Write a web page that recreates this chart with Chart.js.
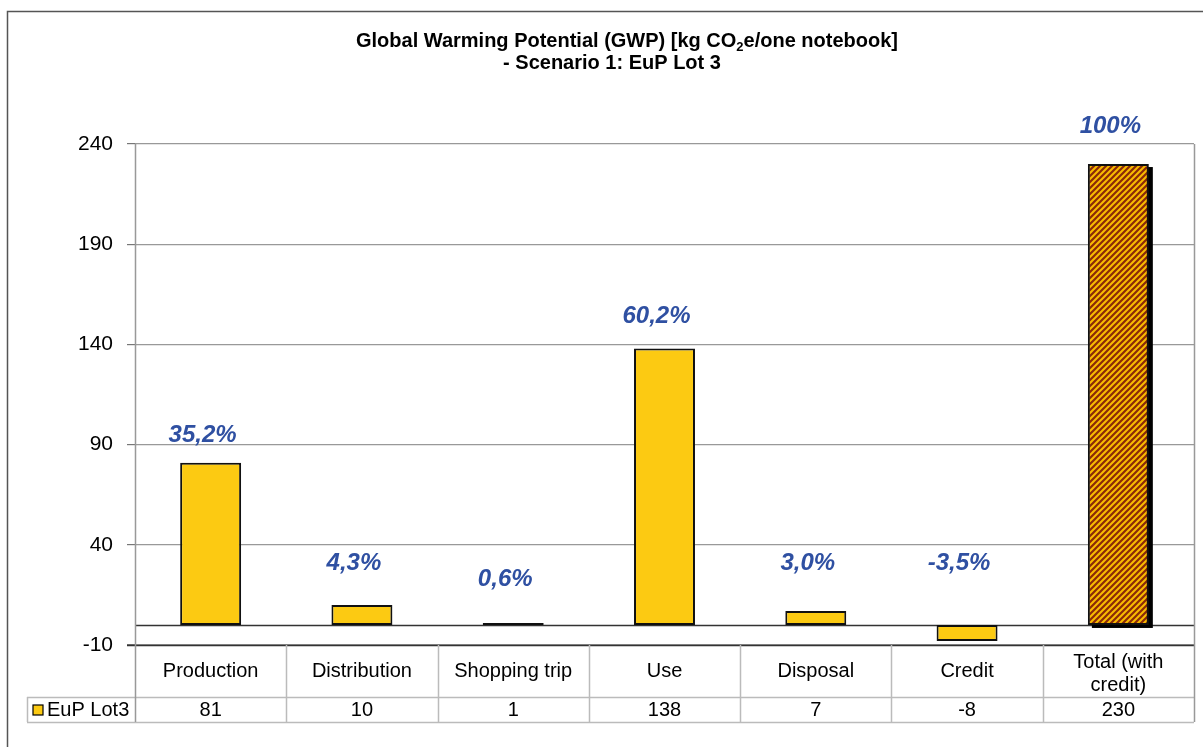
<!DOCTYPE html>
<html>
<head>
<meta charset="utf-8">
<script src="https://cdn.jsdelivr.net/npm/chart.js@4/dist/chart.umd.min.js"></script>
<style>
  html, body { margin: 0; padding: 0; background: #fff; overflow: hidden; }
  #wrap { width: 1203px; height: 747px; position: relative; }
</style>
</head>
<body>
<div id="wrap"><canvas id="gwp-chart" width="1203" height="747"></canvas></div>
<script>
const categories = ['Production', 'Distribution', 'Shopping trip', 'Use', 'Disposal', 'Credit', ['Total (with', 'credit)']];
const values = [81, 10, 1, 138, 7, -8, 230];
const tableValues = ['81', '10', '1', '138', '7', '-8', '230'];
const shareLabels = ['35,2%', '4,3%', '0,6%', '60,2%', '3,0%', '-3,5%', '100%'];
// where the share labels sit, in axis units
const shareLabelAt = [94.5, 30.5, 22.5, 154, 30.5, 30.5, 249];
const yTicks = [-10, 40, 90, 140, 190, 240];
const seriesName = 'EuP Lot3';

const FONT = '"Liberation Sans", Arial, sans-serif';
const YELLOW = '#FCCA12';

function hatch() {
    const c = document.createElement('canvas');
    c.width = 6; c.height = 6;
    const g = c.getContext('2d');
    g.fillStyle = '#F9BC00';
    g.fillRect(0, 0, 6, 6);
    g.strokeStyle = '#8A2A08';
    g.lineWidth = 2.2;
    g.beginPath();
    g.moveTo(-1, 7); g.lineTo(7, -1);
    g.moveTo(-4, 4); g.lineTo(4, -4);
    g.moveTo(2, 10); g.lineTo(10, 2);
    g.stroke();
    return g.createPattern(c, 'repeat');
}

const decor = {
    id: 'decor',
    beforeDraw(chart) {
        const ctx = chart.ctx;
        ctx.save();
        ctx.strokeStyle = '#555';
        ctx.lineWidth = 1.5;
        ctx.beginPath();
        ctx.moveTo(7.5, 760); ctx.lineTo(7.5, 11.5); ctx.lineTo(1210, 11.5);
        ctx.stroke();
        // title
        ctx.fillStyle = '#000';
        ctx.textBaseline = 'middle';
        const p1 = 'Global Warming Potential (GWP) [kg CO', p2 = 'e/one notebook]';
        ctx.font = 'bold 20px ' + FONT;
        const w1 = ctx.measureText(p1).width, w2 = ctx.measureText(p2).width;
        ctx.font = 'bold 13px ' + FONT;
        const ws = ctx.measureText('2').width;
        let x = 627 - (w1 + ws + w2) / 2;
        ctx.textAlign = 'left';
        ctx.font = 'bold 20px ' + FONT;
        ctx.fillText(p1, x, 41);
        ctx.font = 'bold 13px ' + FONT;
        ctx.fillText('2', x + w1, 47);
        ctx.font = 'bold 20px ' + FONT;
        ctx.fillText(p2, x + w1 + ws, 41);
        ctx.textAlign = 'center';
        ctx.fillText('- Scenario 1: EuP Lot 3', 612, 63);
        ctx.restore();
    },
    beforeDatasetsDraw(chart) {
        const ctx = chart.ctx;
        const y = chart.scales.y;
        const area = chart.chartArea;
        ctx.save();
        // zero line
        ctx.strokeStyle = '#333';
        ctx.lineWidth = 1.5;
        const y0 = Math.round(y.getPixelForValue(0)) + 0.5;
        ctx.beginPath();
        ctx.moveTo(area.left, y0); ctx.lineTo(area.right, y0);
        ctx.stroke();
        // shadow behind the total bar
        const bar = chart.getDatasetMeta(0).data[values.length - 1];
        ctx.fillStyle = '#000';
        ctx.fillRect(bar.x - bar.width / 2 + 4, bar.y + 3, bar.width, bar.base - bar.y);
        ctx.restore();
    },
    afterDatasetsDraw(chart) {
        const ctx = chart.ctx;
        const xs = chart.scales.x, ys = chart.scales.y;
        ctx.save();
        ctx.fillStyle = '#2F50A2';
        ctx.font = 'italic bold 24px ' + FONT;
        ctx.textAlign = 'center';
        ctx.textBaseline = 'middle';
        shareLabels.forEach((t, i) => {
            ctx.fillText(t, xs.getPixelForValue(i) - 8, ys.getPixelForValue(shareLabelAt[i]));
        });
        ctx.restore();
    },
    afterDraw(chart) {
        const ctx = chart.ctx;
        const xs = chart.scales.x;
        const area = chart.chartArea;
        const n = categories.length;
        const colW = (area.right - area.left) / n;
        const top = area.bottom, mid = area.bottom + 52, bot = area.bottom + 77;
        ctx.save();
        // bottom axis line
        ctx.strokeStyle = '#333';
        ctx.lineWidth = 1.5;
        ctx.beginPath();
        ctx.moveTo(area.left - 8, top + 0.5); ctx.lineTo(area.right, top + 0.5);
        ctx.stroke();
        // table grid
        ctx.strokeStyle = '#bbb';
        ctx.lineWidth = 1.5;
        ctx.beginPath();
        ctx.moveTo(27, mid + 0.5); ctx.lineTo(area.right, mid + 0.5);
        ctx.moveTo(27, bot + 0.5); ctx.lineTo(area.right, bot + 0.5);
        ctx.moveTo(27.5, mid); ctx.lineTo(27.5, bot);
        for (let i = 1; i < n; i++) {
            const x = Math.round(area.left + i * colW) + 0.5;
            ctx.moveTo(x, top); ctx.lineTo(x, bot);
        }
        ctx.stroke();
        ctx.strokeStyle = '#999';
        ctx.beginPath();
        ctx.moveTo(area.left + 0.5, area.top); ctx.lineTo(area.left + 0.5, bot);
        ctx.moveTo(area.right + 0.5, area.top); ctx.lineTo(area.right + 0.5, bot);
        ctx.stroke();
        // texts
        ctx.fillStyle = '#000';
        ctx.font = '20px ' + FONT;
        ctx.textAlign = 'center';
        ctx.textBaseline = 'middle';
        categories.forEach((c, i) => {
            const cx = xs.getPixelForValue(i);
            if (Array.isArray(c)) {
                ctx.fillText(c[0], cx, top + 17);
                ctx.fillText(c[1], cx, top + 40);
            } else {
                ctx.fillText(c, cx, top + 26);
            }
            ctx.fillText(tableValues[i], cx, mid + 13);
        });
        // legend key
        ctx.fillStyle = YELLOW;
        ctx.fillRect(33, mid + 8, 10, 10);
        ctx.strokeStyle = '#000';
        ctx.lineWidth = 1.2;
        ctx.strokeRect(33, mid + 8, 10, 10);
        ctx.fillStyle = '#000';
        ctx.textAlign = 'left';
        ctx.fillText(seriesName, 47, mid + 13);
        ctx.restore();
    }
};

const totalPattern = hatch();

new Chart(document.getElementById('gwp-chart').getContext('2d'), {
    type: 'bar',
    data: {
        labels: categories,
        datasets: [{
            label: seriesName,
            data: values,
            backgroundColor: values.map((v, i) => i === values.length - 1 ? totalPattern : YELLOW),
            borderColor: '#111',
            borderWidth: 2,
            borderSkipped: false,
            barPercentage: 0.5,
            categoryPercentage: 0.806
        }]
    },
    options: {
        responsive: false,
        animation: false,
        devicePixelRatio: 1,
        layout: { padding: { left: 0, right: 9, top: 144, bottom: 102 } },
        plugins: { legend: { display: false }, tooltip: { enabled: false } },
        scales: {
            x: { display: false },
            y: {
                min: -10,
                max: 240,
                afterBuildTicks: scale => { scale.ticks = yTicks.map(v => ({ value: v })); },
                afterFit: scale => { scale.width = 135; },
                ticks: { color: '#000', font: { family: FONT, size: 21 }, padding: 14 },
                grid: { color: '#999', lineWidth: 1.2, tickLength: 8, tickColor: '#777' },
                border: { display: false }
            }
        }
    },
    plugins: [decor]
});
</script>
</body>
</html>
